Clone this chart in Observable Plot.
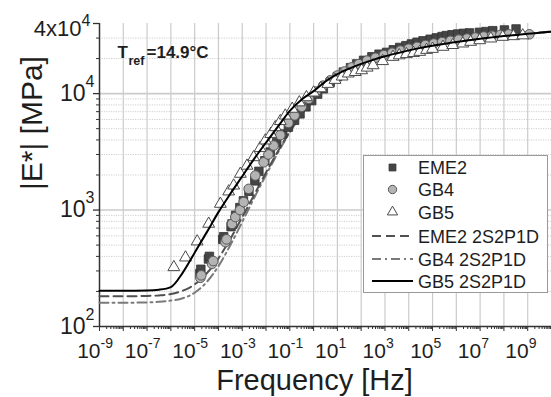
<!DOCTYPE html>
<html><head><meta charset="utf-8">
<script src="https://cdn.jsdelivr.net/npm/d3@7"></script>
<script src="https://cdn.jsdelivr.net/npm/@observablehq/plot@0.6"></script>
<style>
html,body{margin:0;padding:0;background:#fff;}
#chart svg{display:block;overflow:visible;}
</style></head><body><div id="chart"></div>
<script>
// ---------- data (frequency as log10 Hz, modulus in MPa) ----------
const eme2LogF = [-4.78,-4.74,-4.42,-4.38,-3.82,-3.78,-3.47,-3.43,-3.28,-3.10,-2.95,-2.72,-2.47,-2.30,-2.05,-1.82,-1.55,-1.30,-1.06,-0.80,-0.57,-0.32,-0.08,0.17,0.41,0.70,1.00,1.25,1.55,1.81,2.10,2.45,2.75,3.07,3.35,3.62,3.88,4.11,4.35,4.60,4.90,5.16,5.40,5.58,5.82,6.06,6.30,6.55,6.97,7.25,7.53,8.02,8.51];
const eme2E = [285,310,380,400,560,590,720,760,900,1050,1200,1450,1780,2150,2650,3150,3800,4500,5150,5900,6700,7700,8700,9900,11000,12500,14000,15300,16700,18000,19300,20700,21800,22600,23800,24900,25800,26700,27600,28400,29300,30100,30900,31500,32000,32500,32900,33200,33600,34100,34700,35200,35900];

const gb4LogF = [-4.76,-4.72,-4.27,-4.22,-3.71,-3.66,-3.43,-3.29,-3.10,-2.94,-2.73,-2.45,-2.10,-1.90,-1.68,-1.40,-1.06,-0.80,-0.50,-0.20,0.10,0.40,0.70,1.00,1.30,1.60,1.90,2.25,2.60,2.95,3.30,3.65,4.00,4.35,4.70,5.05,5.40,5.75,6.10,6.45,6.80,7.15,7.50,7.85,8.20,9.07];
const gb4E = [262,275,345,365,530,560,760,870,1000,1170,1520,1980,2570,3000,3580,4400,5600,6500,7700,9000,10400,11700,13000,14300,15500,16800,17900,19200,20300,21400,22400,23400,24300,25200,26100,26900,27700,28400,29100,29700,30300,30900,31400,31900,32300,32300];

const gb5LogF = [-5.875,-5.385,-4.894,-4.41,-3.92,-3.57,-3.36,-3.08,-2.80,-2.52,-2.25,-2.03,-1.80,-1.61,-1.40,-1.19,-0.90,-0.60,-0.30,0.00,0.30,0.60,0.90,1.20,1.457,1.75,2.018,2.25,2.50,2.90,3.34,3.60,3.90,4.20,4.46,4.75,5.00,5.44,5.85,6.27,6.60,6.98,7.45,7.95,8.40,8.79];
const gb5E = [323,391,537,762,1130,1443,1622,2046,2400,2840,3400,3955,4500,5140,5800,6470,7400,8400,9300,10200,11100,12100,13100,14000,14860,15300,15850,16700,17500,19000,20650,21300,21800,22300,22800,23700,24200,25200,26100,26900,27800,28700,29700,30700,31100,31600];

// 2S2P1D model curves
const fitLogF = [-9,-8,-7,-6.5,-6,-5.5,-5,-4.5,-4,-3.5,-3,-2.5,-2,-1.5,-1,-0.5,0,0.5,1,1.5,2,2.5,3,3.5,4,4.5,5,5.5,6,6.5,7,7.5,8,8.5,9,9.5,10];
const eme2FitE = [182,182,183,185,190,203,230,285,385,565,870,1350,2100,3200,4750,6750,9050,11550,13850,15950,17800,19400,20900,22300,23600,24800,25900,26900,27900,28800,29700,30500,31300,32000,32700,33400,34100];
const gb4FitE  = [160,160,161,163,167,175,195,240,330,500,790,1270,2000,3100,4650,6650,9000,11500,13800,15900,17750,19350,20850,22250,23550,24750,25850,26850,27850,28750,29650,30450,31250,31950,32650,33350,34050];
const gb5FitE  = [203,203,204,207,218,290,430,640,960,1380,1950,2750,3800,5200,7100,8900,10500,12700,14700,16400,18000,19500,20900,22200,23500,24700,25800,26800,27800,28700,29600,30400,31200,31900,32600,33300,34000];

// axes
const xLabelExps = [-9,-7,-5,-3,-1,1,3,5,7,9];
const xDecadeExps = [-9,-8,-7,-6,-5,-4,-3,-2,-1,0,1,2,3,4,5,6,7,8,9,10];
const yMajor = [100, 1000, 10000, 40000];
const yLabels = [{v:100, e:"2"}, {v:1000, e:"3"}, {v:10000, e:"4"}];
const yTopLabel = {v:40000, base:"4x10", e:"4"};
const yMinor = [200,300,400,500,600,700,800,900,2000,3000,4000,5000,6000,7000,8000,9000,20000,30000];

const legendLabels = ["EME2","GB4","GB5","EME2 2S2P1D","GB4 2S2P1D","GB5 2S2P1D"];

// ---------- build tables ----------
const toPts = (lf, e) => lf.map((f, i) => ({f: 10 ** f, e: e[i]}));
const eme2 = toPts(eme2LogF, eme2E), gb4 = toPts(gb4LogF, gb4E), gb5 = toPts(gb5LogF, gb5E);
const eme2Fit = toPts(fitLogF, eme2FitE), gb4Fit = toPts(fitLogF, gb4FitE), gb5Fit = toPts(fitLogF, gb5FitE);
const xMinor = [];
for (const d of xDecadeExps.slice(0, -1)) for (let m = 2; m <= 9; m++) xMinor.push(m * 10 ** d);

const FONT = "'Liberation Sans', Arial, Helvetica, sans-serif";
const TXT = "#1e1e1e";
const AX = "#333";

const plot = Plot.plot({
  width: 551, height: 397,
  marginLeft: 99, marginRight: 0, marginTop: 23, marginBottom: 71,
  style: {fontFamily: FONT, background: "#fff", overflow: "visible"},
  x: {type: "log", domain: [1e-9, 1e10]},
  y: {type: "log", domain: [100, 40000]},
  marks: [
    // grid
    Plot.ruleY(yMinor, {stroke: "#cfcfcf", strokeWidth: 1, strokeDasharray: "1.2,1.2"}),
    Plot.ruleX(xDecadeExps.slice(1, -1).map(d => 10 ** d), {stroke: "#cbcbcb", strokeWidth: 1.2}),
    Plot.ruleY([1000, 10000], {stroke: "#cbcbcb", strokeWidth: 1.6}),
    // axis lines and ticks
    Plot.ruleX([1e-9], {stroke: AX, strokeWidth: 1.5}),
    Plot.ruleY([100], {stroke: AX, strokeWidth: 1.5}),
    Plot.axisX(xMinor, {tickSize: 3, tickFormat: () => "", label: null, stroke: AX}),
    Plot.axisX(xDecadeExps.map(d => 10 ** d), {tickSize: 5, tickFormat: () => "", label: null, stroke: AX}),
    Plot.axisY(yMinor, {tickSize: 3, tickFormat: () => "", label: null, stroke: AX}),
    Plot.axisY(yMajor, {tickSize: 6, tickFormat: () => "", label: null, stroke: AX, strokeWidth: 1.3}),
    // x tick labels
    Plot.text(xLabelExps, {x: d => 10 ** d, text: () => "10", frameAnchor: "bottom", textAnchor: "end", lineAnchor: "bottom", dx: 1, dy: 31, fontSize: 21, fill: TXT}),
    Plot.text(xLabelExps, {x: d => 10 ** d, text: d => (d < 0 ? "-" + (-d) : String(d)), frameAnchor: "bottom", textAnchor: "start", lineAnchor: "bottom", dx: 1, dy: 21, fontSize: 14, fill: TXT}),
    // y tick labels
    Plot.text(yLabels, {y: "v", text: () => "10", frameAnchor: "left", textAnchor: "end", lineAnchor: "middle", dx: -14, fontSize: 23, fill: TXT}),
    Plot.text(yLabels, {y: "v", text: "e", frameAnchor: "left", textAnchor: "start", lineAnchor: "bottom", dx: -14, dy: -7, fontSize: 16, fill: TXT}),
    Plot.text([yTopLabel], {y: "v", text: "base", frameAnchor: "left", textAnchor: "end", lineAnchor: "middle", dx: -18, dy: 5, fontSize: 22, fill: TXT}),
    Plot.text([yTopLabel], {y: "v", text: "e", frameAnchor: "left", textAnchor: "start", lineAnchor: "bottom", dx: -18, dy: 2, fontSize: 16, fill: TXT}),
    // axis titles
    Plot.text(["Frequency [Hz]"], {frameAnchor: "bottom", dx: -11, dy: 63, lineAnchor: "bottom", fontSize: 29, fill: TXT}),
    Plot.text(["|E*| [MPa]"], {frameAnchor: "left", rotate: -90, dx: -58, dy: 15, lineAnchor: "bottom", fontSize: 30, fill: TXT}),
    // annotation
    Plot.text(["T"], {frameAnchor: "top-left", textAnchor: "start", lineAnchor: "bottom", dx: 18, dy: 34, fontSize: 17, fontWeight: "bold", fill: TXT}),
    Plot.text(["ref"], {frameAnchor: "top-left", textAnchor: "start", lineAnchor: "bottom", dx: 29, dy: 41, fontSize: 12.5, fontWeight: "bold", fill: TXT}),
    Plot.text(["=14.9°C"], {frameAnchor: "top-left", textAnchor: "start", lineAnchor: "bottom", dx: 47, dy: 34, fontSize: 17, fontWeight: "bold", fill: TXT}),
    // model curves
    Plot.line(gb4Fit, {x: "f", y: "e", stroke: "#7a7a7a", strokeWidth: 2, strokeDasharray: "9,4,2,4", curve: "monotone-x"}),
    Plot.line(eme2Fit, {x: "f", y: "e", stroke: "#505050", strokeWidth: 2, strokeDasharray: "9,5", curve: "monotone-x"}),
    // data
    Plot.dot(eme2, {x: "f", y: "e", symbol: "square", r: 4.8, fill: "#454545", stroke: "#333", strokeWidth: 0.8}),
    Plot.dot(gb4, {x: "f", y: "e", symbol: "circle", r: 4.8, fill: "#b4b4b4", stroke: "#5a5a5a", strokeWidth: 1}),
    Plot.dot(gb5, {x: "f", y: "e", symbol: "triangle", r: 4.4, fill: "#fff", stroke: "#4a4a4a", strokeWidth: 1}),
    Plot.line(gb5Fit, {x: "f", y: "e", stroke: "#000", strokeWidth: 2, curve: "monotone-x"})
  ]
});
document.getElementById("chart").appendChild(plot);

// ---------- legend ----------
const svg = d3.select(plot);
const lg = svg.append("g").attr("font-family", FONT).attr("text-anchor", "start");
lg.append("rect").attr("x", 363.5).attr("y", 155.5).attr("width", 184).attr("height", 137)
  .attr("fill", "#fff").attr("stroke", "#999").attr("stroke-width", 1);
const rowY = [167.5, 189.5, 212, 236, 259, 281];
const symX = 392.5;
lg.append("path").attr("d", d3.symbol(d3.symbolSquare, 48)()).attr("transform", `translate(${symX},${rowY[0]})`).attr("fill", "#454545").attr("stroke", "#333").attr("stroke-width", 0.8);
lg.append("path").attr("d", d3.symbol(d3.symbolCircle, 55)()).attr("transform", `translate(${symX},${rowY[1]})`).attr("fill", "#b4b4b4").attr("stroke", "#5a5a5a");
lg.append("path").attr("d", d3.symbol(d3.symbolTriangle, 45)()).attr("transform", `translate(${symX},${rowY[2]})`).attr("fill", "#fff").attr("stroke", "#4a4a4a");
const lineStyles = [["#505050", "9,5"], ["#7a7a7a", "9,4,2,4"], ["#000", null]];
lineStyles.forEach(([c, da], i) => {
  const l = lg.append("line").attr("x1", 372).attr("x2", 413).attr("y1", rowY[3 + i]).attr("y2", rowY[3 + i])
    .attr("stroke", c).attr("stroke-width", 2);
  if (da) l.attr("stroke-dasharray", da);
});
legendLabels.forEach((t, i) => {
  lg.append("text").attr("x", 418).attr("y", rowY[i] + 6.5).attr("font-size", 18)
    .attr("text-anchor", "start").attr("fill", TXT).text(t);
});
</script>
</body></html>
